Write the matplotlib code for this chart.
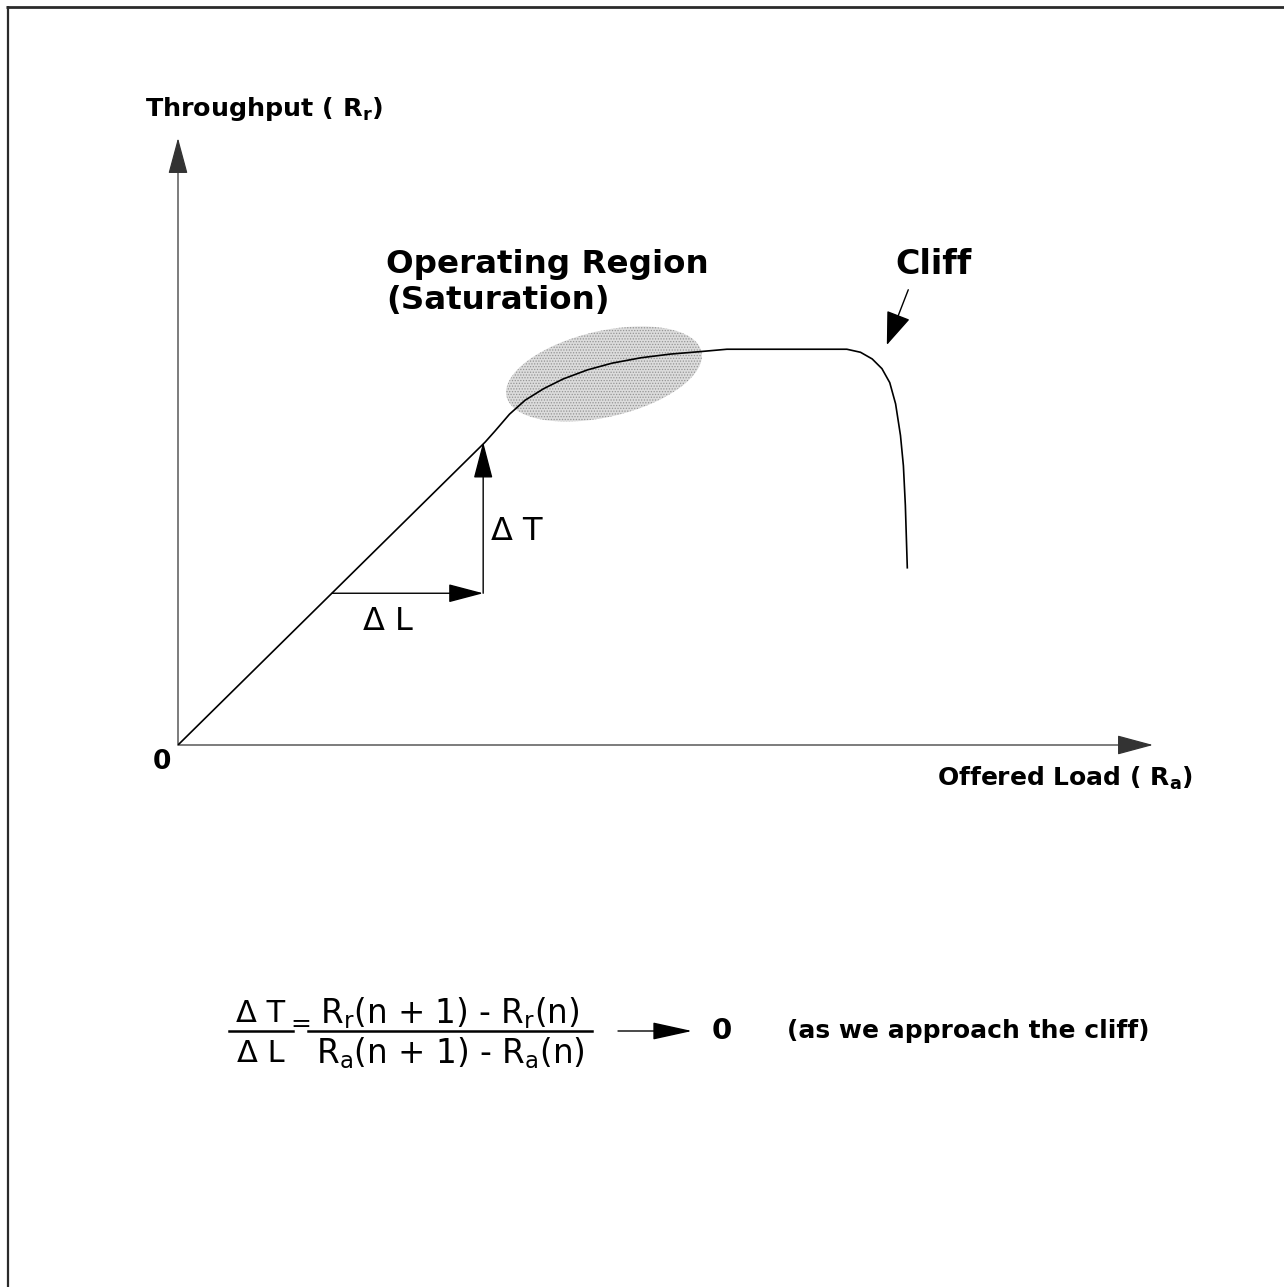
import matplotlib
matplotlib.use("Agg")
import matplotlib.pyplot as plt
from matplotlib.patches import Ellipse

plt.rcParams['font.family'] = ['DejaVu Sans']
plt.rcParams['mathtext.fontset'] = 'dejavusans'
plt.rcParams['hatch.linewidth'] = 0.6

# Throughput versus offered load (arbitrary units, 0-10 on both axes)
offered_load = [0.00, 3.15, 3.25, 3.40, 3.56, 3.75, 3.95, 4.20, 4.45, 4.75,
                5.05, 5.35, 5.63, 6.86, 7.00, 7.12, 7.22, 7.30, 7.36, 7.41,
                7.44, 7.46, 7.48]
throughput = [0.00, 4.99, 5.17, 5.45, 5.68, 5.87, 6.03, 6.18, 6.29, 6.38,
              6.44, 6.48, 6.52, 6.52, 6.47, 6.36, 6.20, 5.97, 5.62, 5.10,
              4.60, 3.95, 2.92]

# Increment triangle on the linear part
delta_load = [1.58, 3.13]
delta_thru = [2.50, 4.99]

# Point on the curve where the cliff begins, and label anchor
cliff_point = (7.27, 6.59)
cliff_label = (7.49, 7.50)

fig = plt.figure(figsize=(12.84, 12.87), dpi=100)

# Page layer in pixel units (y downwards) for the frame and free text
page = fig.add_axes([0, 0, 1, 1])
page.set_xlim(0, 1284)
page.set_ylim(1287, 0)
page.axis('off')

frame = dict(color='#2b2b2b', solid_capstyle='butt')
page.plot([6, 1284], [6.5, 6.5], lw=2.0, **frame)
page.plot([7.5, 7.5], [6, 1287], lw=1.6, **frame)

# Shaded operating region
page.add_patch(Ellipse((604, 374), 200, 86, angle=-13,
                       facecolor='#dcdcdc', edgecolor='#949494',
                       hatch='......', lw=0, zorder=1))

# Chart axes
ax = fig.add_axes([178 / 1284, (1287 - 745) / 1287, 975 / 1284, 607 / 1287])
ax.set_xlim(0, 10)
ax.set_ylim(0, 10)
ax.axis('off')

def arrow(a, xy_from, xy_to, hl, hw, lw=1.0, color='black', z=3):
    a.annotate('', xy=xy_to, xytext=xy_from,
               arrowprops=dict(arrowstyle=f'-|>,head_length={hl},head_width={hw}',
                               mutation_scale=10, lw=lw, color=color,
                               shrinkA=0, shrinkB=0),
               zorder=z)

# Axes with arrow heads
arrow(ax, (0, 0), (0, 10), 2.3, 0.62, lw=0.9, color='#333333')
arrow(ax, (0, 0), (10, 0), 2.3, 0.62, lw=0.9, color='#333333')

# Throughput curve
ax.plot(offered_load, throughput, color='black', lw=1.2, zorder=4)

# Delta L and Delta T arrows
arrow(ax, (delta_load[0], delta_thru[0]), (delta_load[1], delta_thru[0]), 2.2, 0.58, lw=1.0)
arrow(ax, (delta_load[1], delta_thru[0]), (delta_load[1], delta_thru[1]), 2.3, 0.60, lw=1.0)

# Cliff pointer
arrow(ax, cliff_label, cliff_point, 2.1, 0.78, lw=1.0)

# Labels
bold = dict(fontweight='bold', color='black')
page.text(145, 109, 'Throughput ( R$_\\mathbf{r}$)', fontsize=18.3, ha='left', va='center', **bold)
page.text(162, 762, '0', fontsize=19, ha='center', va='center', **bold)
page.text(937, 778, 'Offered Load ( R$_\\mathbf{a}$)', fontsize=18, ha='left', va='center', **bold)
page.text(386, 264, 'Operating Region', fontsize=23.4, ha='left', va='center', **bold)
page.text(386, 300, '(Saturation)', fontsize=23.4, ha='left', va='center', **bold)
page.text(895, 264, 'Cliff', fontsize=24, ha='left', va='center', **bold)

page.text(491, 531, '\u0394 T', fontsize=23, ha='left', va='center')
page.text(363, 622, '\u0394 L', fontsize=23, ha='left', va='center')

# Ratio of increments
eq_y = 1031
page.text(261, eq_y - 18, '\u0394 T', fontsize=22, ha='center', va='center')
page.text(261, eq_y + 22, '\u0394 L', fontsize=22, ha='center', va='center')
page.plot([229, 293], [eq_y, eq_y], color='black', lw=1.8)
page.text(301, eq_y - 7, '=', fontsize=18, ha='center', va='center')
page.text(450, eq_y - 18, 'R$_\\mathrm{r}$(n + 1) - R$_\\mathrm{r}$(n)', fontsize=23.5, ha='center', va='center')
page.text(450, eq_y + 22, 'R$_\\mathrm{a}$(n + 1) - R$_\\mathrm{a}$(n)', fontsize=23.5, ha='center', va='center')
page.plot([308, 592], [eq_y, eq_y], color='black', lw=1.8)
page.annotate('', xy=(692, eq_y), xytext=(618, eq_y),
              arrowprops=dict(arrowstyle='-|>,head_length=2.5,head_width=0.55',
                              mutation_scale=10, lw=1.0, color='black',
                              shrinkA=0, shrinkB=0))
page.text(722, eq_y, '0', fontsize=21, ha='center', va='center', **bold)
page.text(787, eq_y, '(as we approach the cliff)', fontsize=18, ha='left', va='center', **bold)

fig.savefig('out.png', dpi=100)
